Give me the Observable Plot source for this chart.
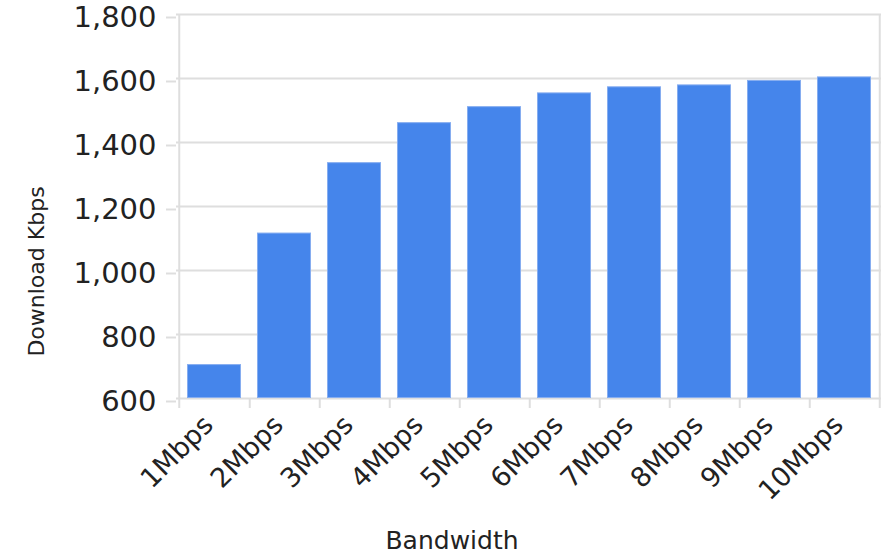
<!DOCTYPE html>
<html>
<head>
<meta charset="utf-8">
<script src="https://cdn.jsdelivr.net/npm/d3@7"></script>
<script src="https://cdn.jsdelivr.net/npm/@observablehq/plot@0.6"></script>
<style>
  html, body { margin: 0; padding: 0; background: #fff; }
  #chart svg { display: block; }
</style>
</head>
<body>
<div id="chart"></div>
<script>
const categories = ["1Mbps", "2Mbps", "3Mbps", "4Mbps", "5Mbps", "6Mbps", "7Mbps", "8Mbps", "9Mbps", "10Mbps"];
const downloads = [706, 1117, 1337, 1462, 1512, 1555, 1574, 1580, 1594, 1605];
const yTicks = [600, 800, 1000, 1200, 1400, 1600, 1800];
const xTitle = "Bandwidth";
const yTitle = "Download Kbps";

const data = categories.map((c, i) => ({bandwidth: c, download: downloads[i]}));

const W = 889, H = 556;
const mL = 176, mR = 8, mT = 14, mB = 158;
const step = (W - mL - mR) / categories.length;
const gridColor = "#dedede";
const textColor = "#222";
const font = "DejaVu Sans, sans-serif";

const chart = Plot.plot({
  width: W,
  height: H,
  marginLeft: mL,
  marginRight: mR,
  marginTop: mT,
  marginBottom: mB,
  style: {fontFamily: font, color: textColor, background: "#fff"},
  x: {domain: categories, paddingInner: 0.235, paddingOuter: 0.1175, label: null},
  y: {domain: [600, 1800], label: null},
  marks: [
    Plot.gridY(yTicks, {stroke: gridColor, strokeOpacity: 1, strokeWidth: 2}),
    Plot.barY(data, {x: "bandwidth", y1: 600, y2: "download", fill: "#4585eb", stroke: "#86adf0", strokeWidth: 1, inset: 0.5}),
    // frame sides
    Plot.ruleX([categories[0]], {dx: -step / 2, y1: 600, y2: 1800, stroke: gridColor, strokeWidth: 2}),
    Plot.ruleX([categories[categories.length - 1]], {dx: step / 2, y1: 600, y2: 1800, stroke: gridColor, strokeWidth: 2}),
    // y axis
    Plot.axisY(yTicks, {tickSize: 10, tickPadding: 10, stroke: gridColor, strokeWidth: 2, fill: textColor, fontSize: 29, dy: 3, tickFormat: d3.format(","), label: null}),
    // x boundary ticks
    Plot.axisX(categories, {tickSize: 10, dx: step / 2, stroke: gridColor, strokeWidth: 2, tickFormat: () => "", label: null}),
    Plot.axisX([categories[0]], {tickSize: 10, dx: -step / 2, stroke: gridColor, strokeWidth: 2, tickFormat: () => "", label: null}),
    // x labels
    Plot.axisX(categories, {tickSize: 0, tickPadding: 10, tickRotate: -45, fill: textColor, fontSize: 27, dx: -6, dy: 12, label: null}),
    // axis titles
    Plot.text([xTitle], {frameAnchor: "bottom", dy: 150, dx: -77, fontSize: 25, fill: textColor}),
    Plot.text([yTitle], {frameAnchor: "left", textAnchor: "middle", dx: -140, dy: 65, rotate: -90, fontSize: 22, fill: textColor})
  ]
});

document.getElementById("chart").appendChild(chart);
</script>
</body>
</html>
